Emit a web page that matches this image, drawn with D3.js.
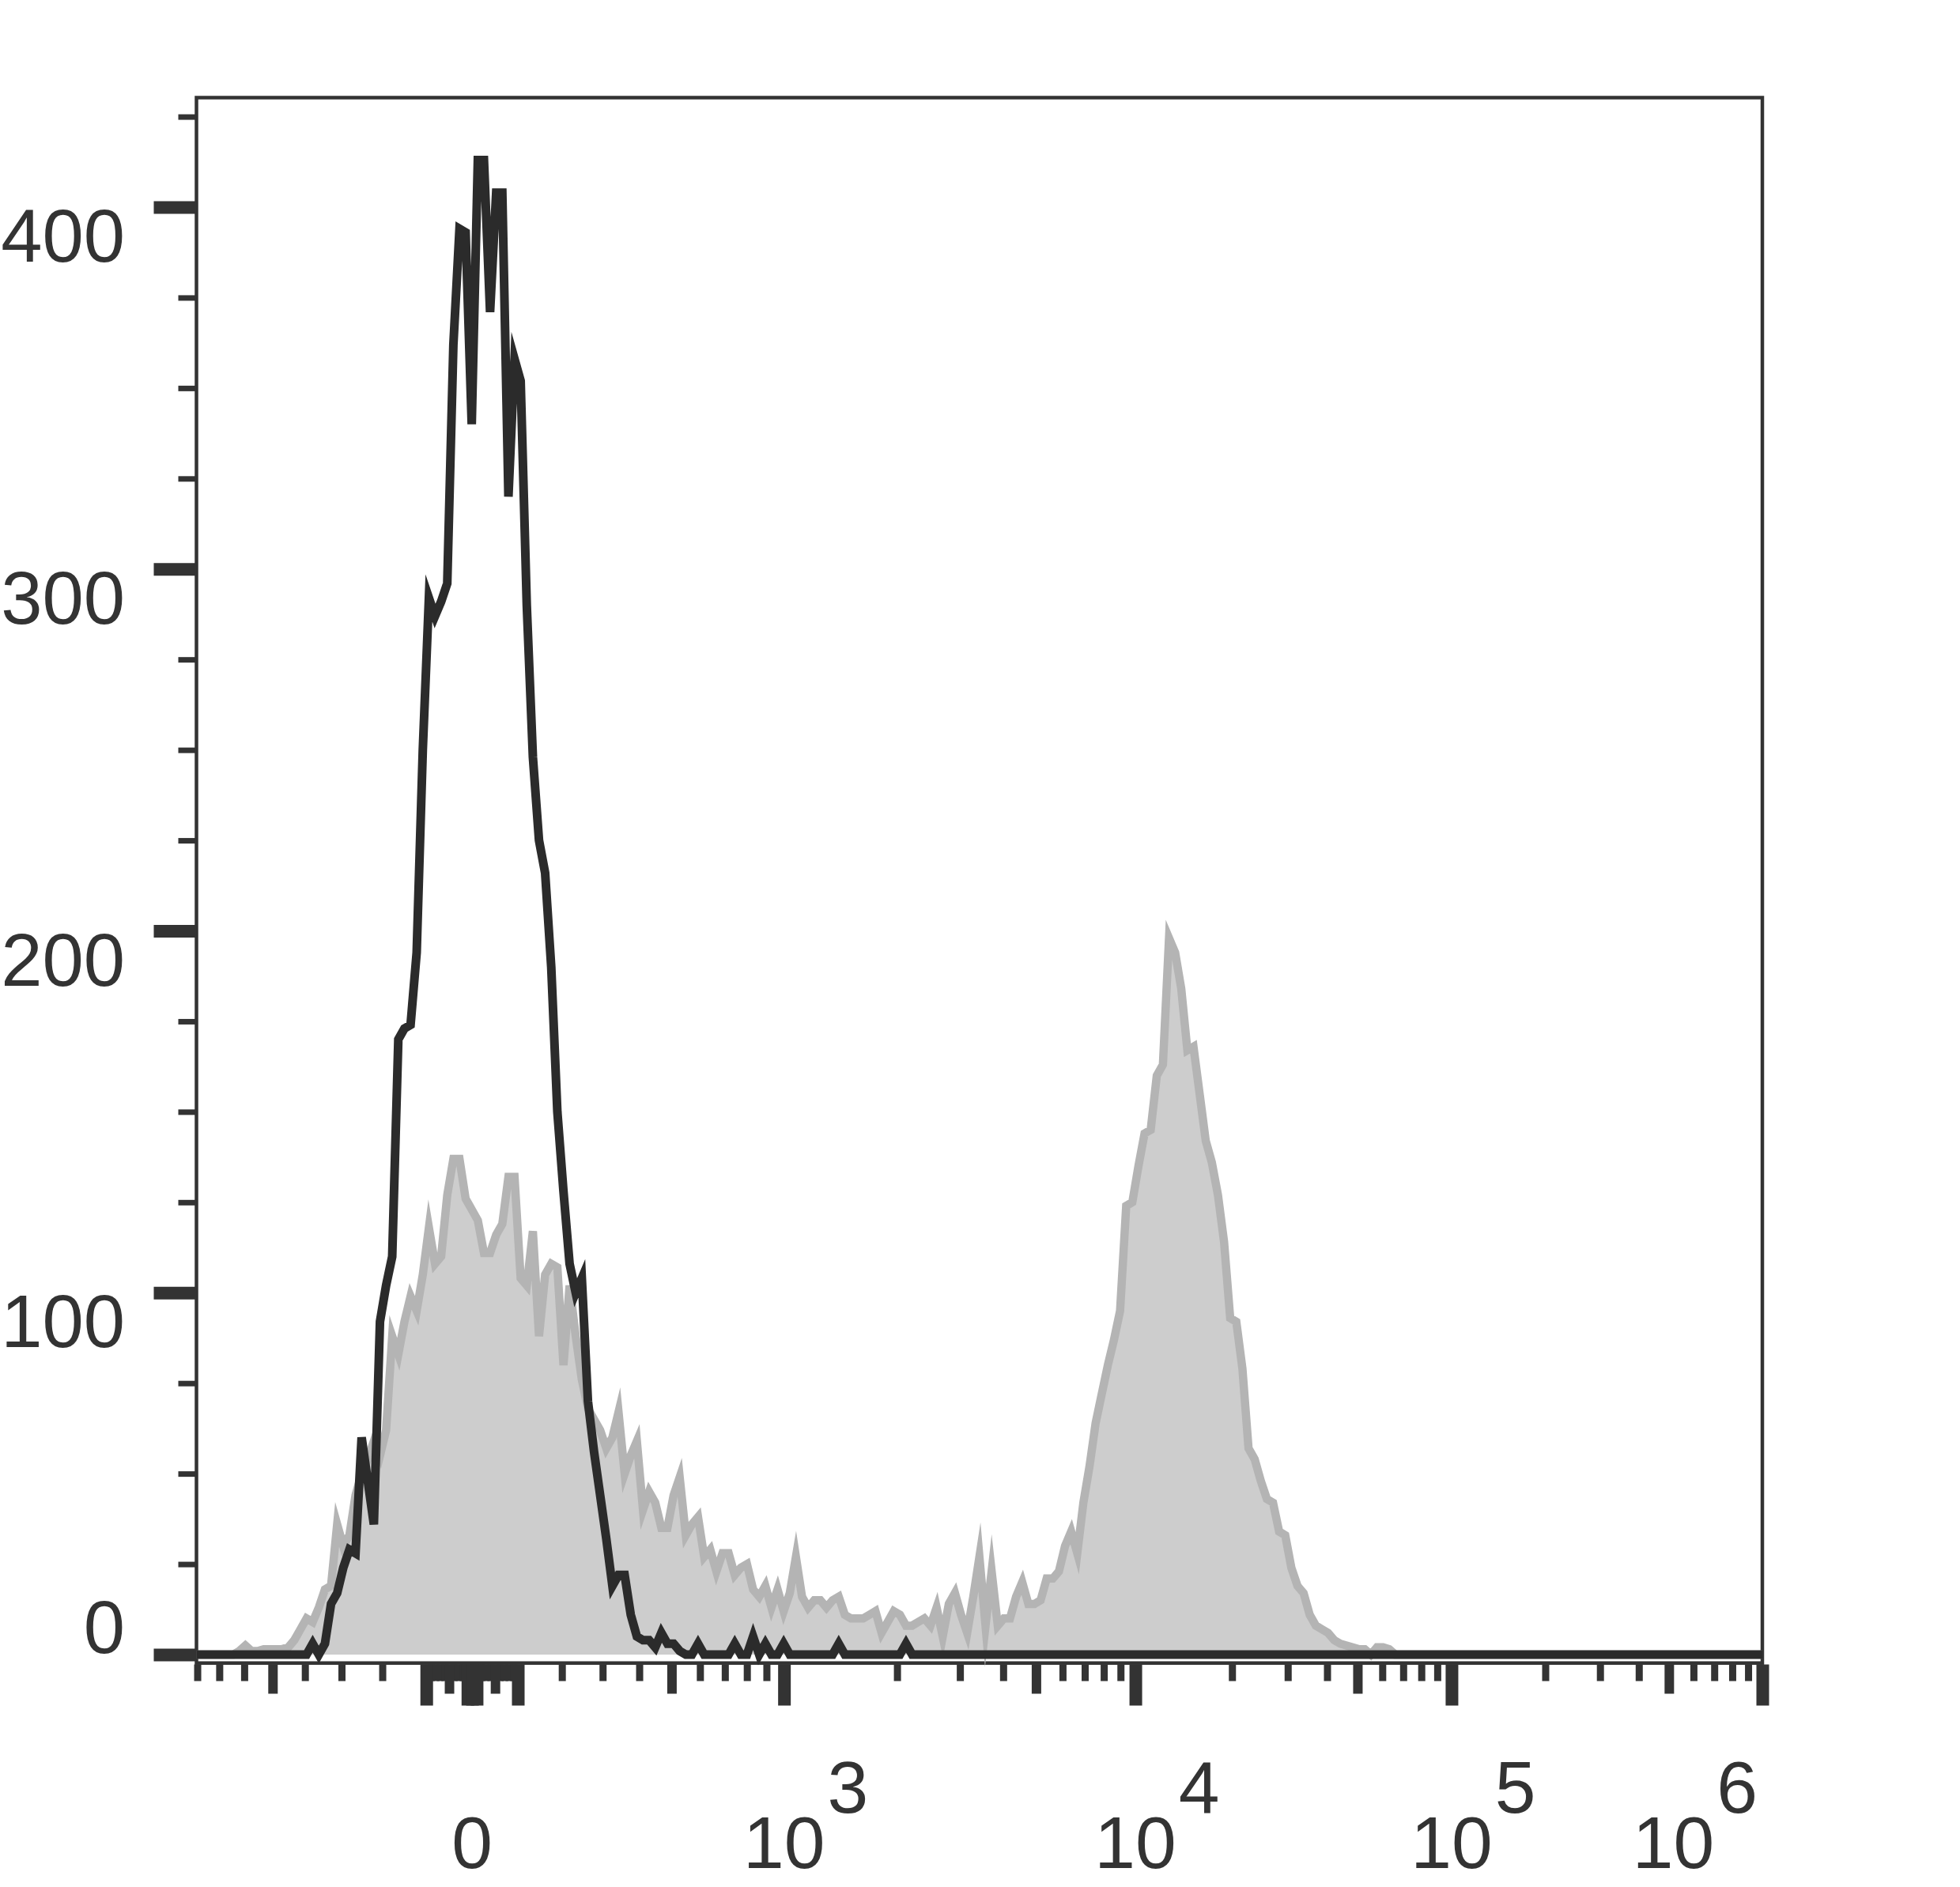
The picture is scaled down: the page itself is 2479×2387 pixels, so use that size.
<!DOCTYPE html>
<html><head><meta charset="utf-8">
<script src="https://cdn.jsdelivr.net/npm/d3@7"></script>
<style>html,body{margin:0;padding:0;background:#fff;} svg{display:block;}</style>
</head><body>
<svg id="chart" width="2479" height="2387"></svg>
<script>
// ---------------- DATA ----------------
const CHANNELS = 256;               // histogram channels across the display axis
const blackStart = 17;              // first channel of blackCounts
const blackCounts = [
  0,0,3,0,3,14,17,24,29,28,60,48,36,92,102,110,170,173,174,194,
  250,292,287,291,296,362,394,393,340,413,413,371,404,404,320,358,352,290,248,225,
  216,190,150,128,108,100,104,70,56,44,32,19,22,22,11,5,4,4,2,6,
  3,3,1,0,0,3,0,0,0,0,0,3,0,0,5,0,3,0,0,3,
  0,0,0,0,0,0,0,0,3,0,0,0,0,0,0,0,0,0,0,3,0
];
const grayStart = 6;                // first channel of grayCounts
const grayCounts = [
  0,1,2.5,1,1,1.5,1.5,1.5,1.5,2,4,7,10,9,13,18,19,36,30,33,
  44,50,54,59,55,62,88,83,92,99,95,105,118,108,110,127,137,137,126,123,
  120,111,111,116,119,132,132,104,102,117,88,105,108,107,80,102,88,76,68,65,
  62,57,60,67,50,55,59,40,45,42,35,35,44,49,33,36,38,27,29,23,
  28,28,22,24,25,18,16,19,13,18,12,17,27,16,13,15,15,13,15,16,
  11,10,10,10,11,12,6,9,12,11,8,8,9,10,8,13,5,14,17,11,
  6,16,27,8,23,8,10,10,16,20,14,14,15,21,21,23,30,34,28,42,
  52,64,72,80,87,95,124,125,135,144,145,160,163,198,194,184,167,168,155,142,
  136,127,114,93,92,79,57,54,48,43,42,34,33,24,19,17,11,8,7,6,
  4,3,2.5,2,1.5,1.5,0,2,2,1.5,0
];
const yMajorTicks = [0, 100, 200, 300, 400];
const yMinorTicks = [25,50,75,125,150,175,225,250,275,325,350,375,425];
const yTickLabels = ["0", "100", "200", "300", "400"];
const xMajorTicks = [-100, -10, 0, 10, 100, 1e3, 1e4, 1e5, 1e6];
const xMidTicks = [-500, -50, 50, 500, 5e3, 5e4, 5e5];
const xMinorTicks = [-800,-700,-600,-400,-300,-200,-90,-80,-70,-60,-40,-30,-20,
  20,30,40,60,70,80,90,200,300,400,600,700,800,900,
  2e3,3e3,4e3,6e3,7e3,8e3,9e3,2e4,3e4,4e4,6e4,7e4,8e4,9e4,
  2e5,3e5,4e5,6e5,7e5,8e5,9e5];
const xLabelValues = [0, 1e3, 1e4, 1e5, 1e6];
const xLabelBase = ["0", "10", "10", "10", "10"];
const xLabelExp = ["", "3", "4", "5", "6"];

// ---------------- LOGICLE TRANSFORM ----------------
function makeLogicle(T, W, M, A) {
  const w = W / (M + A), x2 = A / (M + A), x1 = x2 + w, x0 = x2 + 2 * w;
  const b = (M + A) * Math.LN10;
  const g = d => 2 * (Math.log(d) - Math.log(b)) + w * (b + d);
  let lo = 1e-9, hi = b;
  for (let i = 0; i < 200; i++) { const m = (lo + hi) / 2; if (g(m) > 0) hi = m; else lo = m; }
  const d = (lo + hi) / 2;
  const ca = Math.exp(x0 * (b + d));
  const fa = Math.exp(b * x1) - ca / Math.exp(d * x1);
  const a = T / ((Math.exp(b) - fa) - ca / Math.exp(d));
  const c = ca * a, f = -fa * a;
  function S(y) { return y >= x1 ? a * Math.exp(b * y) - c * Math.exp(-d * y) + f : -S(2 * x1 - y); }
  function inv(v) {
    if (v === 0) return x1;
    if (v < 0) return 2 * x1 - inv(-v);
    let l = x1, h = 2;
    for (let i = 0; i < 200; i++) { const m = (l + h) / 2; if (S(m) < v) l = m; else h = m; }
    return (l + h) / 2;
  }
  return { S, inv };
}
const lg = makeLogicle(1e6, 0.78, 4.9411, 0.1089);

// ---------------- LAYOUT ----------------
const plotL = 248.5, plotR = 2229, plotT = 123.5, plotB = 2103.7;
const svg = d3.select("#chart");
const ink = "#333333";

const xDisp = d3.scaleLinear().domain([0, 1]).range([plotL, plotR]);
const xChan = d3.scaleLinear().domain([0, CHANNELS]).range([plotL, plotR]);
const yScale = d3.scaleLinear().domain([0, 400]).range([2093, 262]);

function fullSeries(start, counts) {
  return d3.range(0, CHANNELS + 1).map(c => {
    const k = c - start;
    return [c, (k >= 0 && k < counts.length) ? counts[k] : 0];
  });
}
const graySeries = fullSeries(grayStart, grayCounts);
const blackSeries = fullSeries(blackStart, blackCounts);

// frame
svg.append("rect").attr("x", plotL).attr("y", plotT)
  .attr("width", plotR - plotL).attr("height", plotB - plotT)
  .attr("fill", "none").attr("stroke", ink).attr("stroke-width", 4.5);

// gray filled histogram
const area = d3.area().x(d => xChan(d[0])).y0(yScale(0)).y1(d => yScale(d[1]));
const line = d3.line().x(d => xChan(d[0])).y(d => yScale(d[1]));
svg.append("path").attr("d", area(graySeries)).attr("fill", "#cdcdcd");
svg.append("path").attr("d", line(graySeries)).attr("fill", "none")
  .attr("stroke", "#b4b4b4").attr("stroke-width", 10.5)
  .attr("stroke-linejoin", "miter").attr("stroke-miterlimit", 10);
// black line histogram
svg.append("path").attr("d", line(blackSeries)).attr("fill", "none")
  .attr("stroke", "#2b2b2b").attr("stroke-width", 11)
  .attr("stroke-linejoin", "miter").attr("stroke-miterlimit", 10);

// ---------------- X AXIS ----------------
function xTicks(values, size, width) {
  const ax = d3.axisBottom(xDisp).tickValues(values.map(v => lg.inv(v)))
    .tickSize(size).tickFormat("");
  const g = svg.append("g").attr("transform", `translate(0,${plotB + 1.8})`).call(ax);
  g.select(".domain").remove();
  g.selectAll(".tick line").attr("stroke", ink).attr("stroke-width", width);
}
xTicks(xMinorTicks, 21, 9);
xTicks(xMidTicks, 37, 12);
xTicks(xMajorTicks, 52, 16);

// ---------------- Y AXIS ----------------
function yTicks(values, size, width) {
  const ax = d3.axisLeft(yScale).tickValues(values).tickSize(size).tickFormat("");
  const g = svg.append("g").attr("transform", `translate(${plotL},0)`).call(ax);
  g.select(".domain").remove();
  g.selectAll(".tick line").attr("stroke", ink).attr("stroke-width", width);
}
yTicks(yMinorTicks, 23, 7);
yTicks(yMajorTicks, 54, 16);

const font = "'Liberation Sans', Arial, Helvetica, sans-serif";
yMajorTicks.forEach((v, i) => {
  const ty = yScale(v);
  svg.append("text").attr("x", 158)
    .attr("y", v === 0 ? ty - 2.5 : ty + 69)
    .attr("text-anchor", "end").attr("font-family", font).attr("font-size", 94)
    .attr("fill", ink).text(yTickLabels[i]);
});

xLabelValues.forEach((v, i) => {
  const px = xDisp(lg.inv(v));
  const base = svg.append("text").attr("y", 2363).attr("font-family", font)
    .attr("font-size", 93).attr("fill", ink).text(xLabelBase[i]);
  const wb = base.node().getComputedTextLength();
  let sup = null, ws = 0, gap = 0;
  if (xLabelExp[i]) {
    sup = svg.append("text").attr("y", 2293).attr("font-family", font)
      .attr("font-size", 93).attr("fill", ink).text(xLabelExp[i]);
    ws = sup.node().getComputedTextLength();
    gap = 3;
  }
  let sx = px - wb / 2;
  const limit = plotR - 6;
  if (sx + wb + gap + ws > limit) sx = limit - wb - gap - ws;
  base.attr("x", sx);
  if (sup) sup.attr("x", sx + wb + gap);
});
</script>
</body></html>
